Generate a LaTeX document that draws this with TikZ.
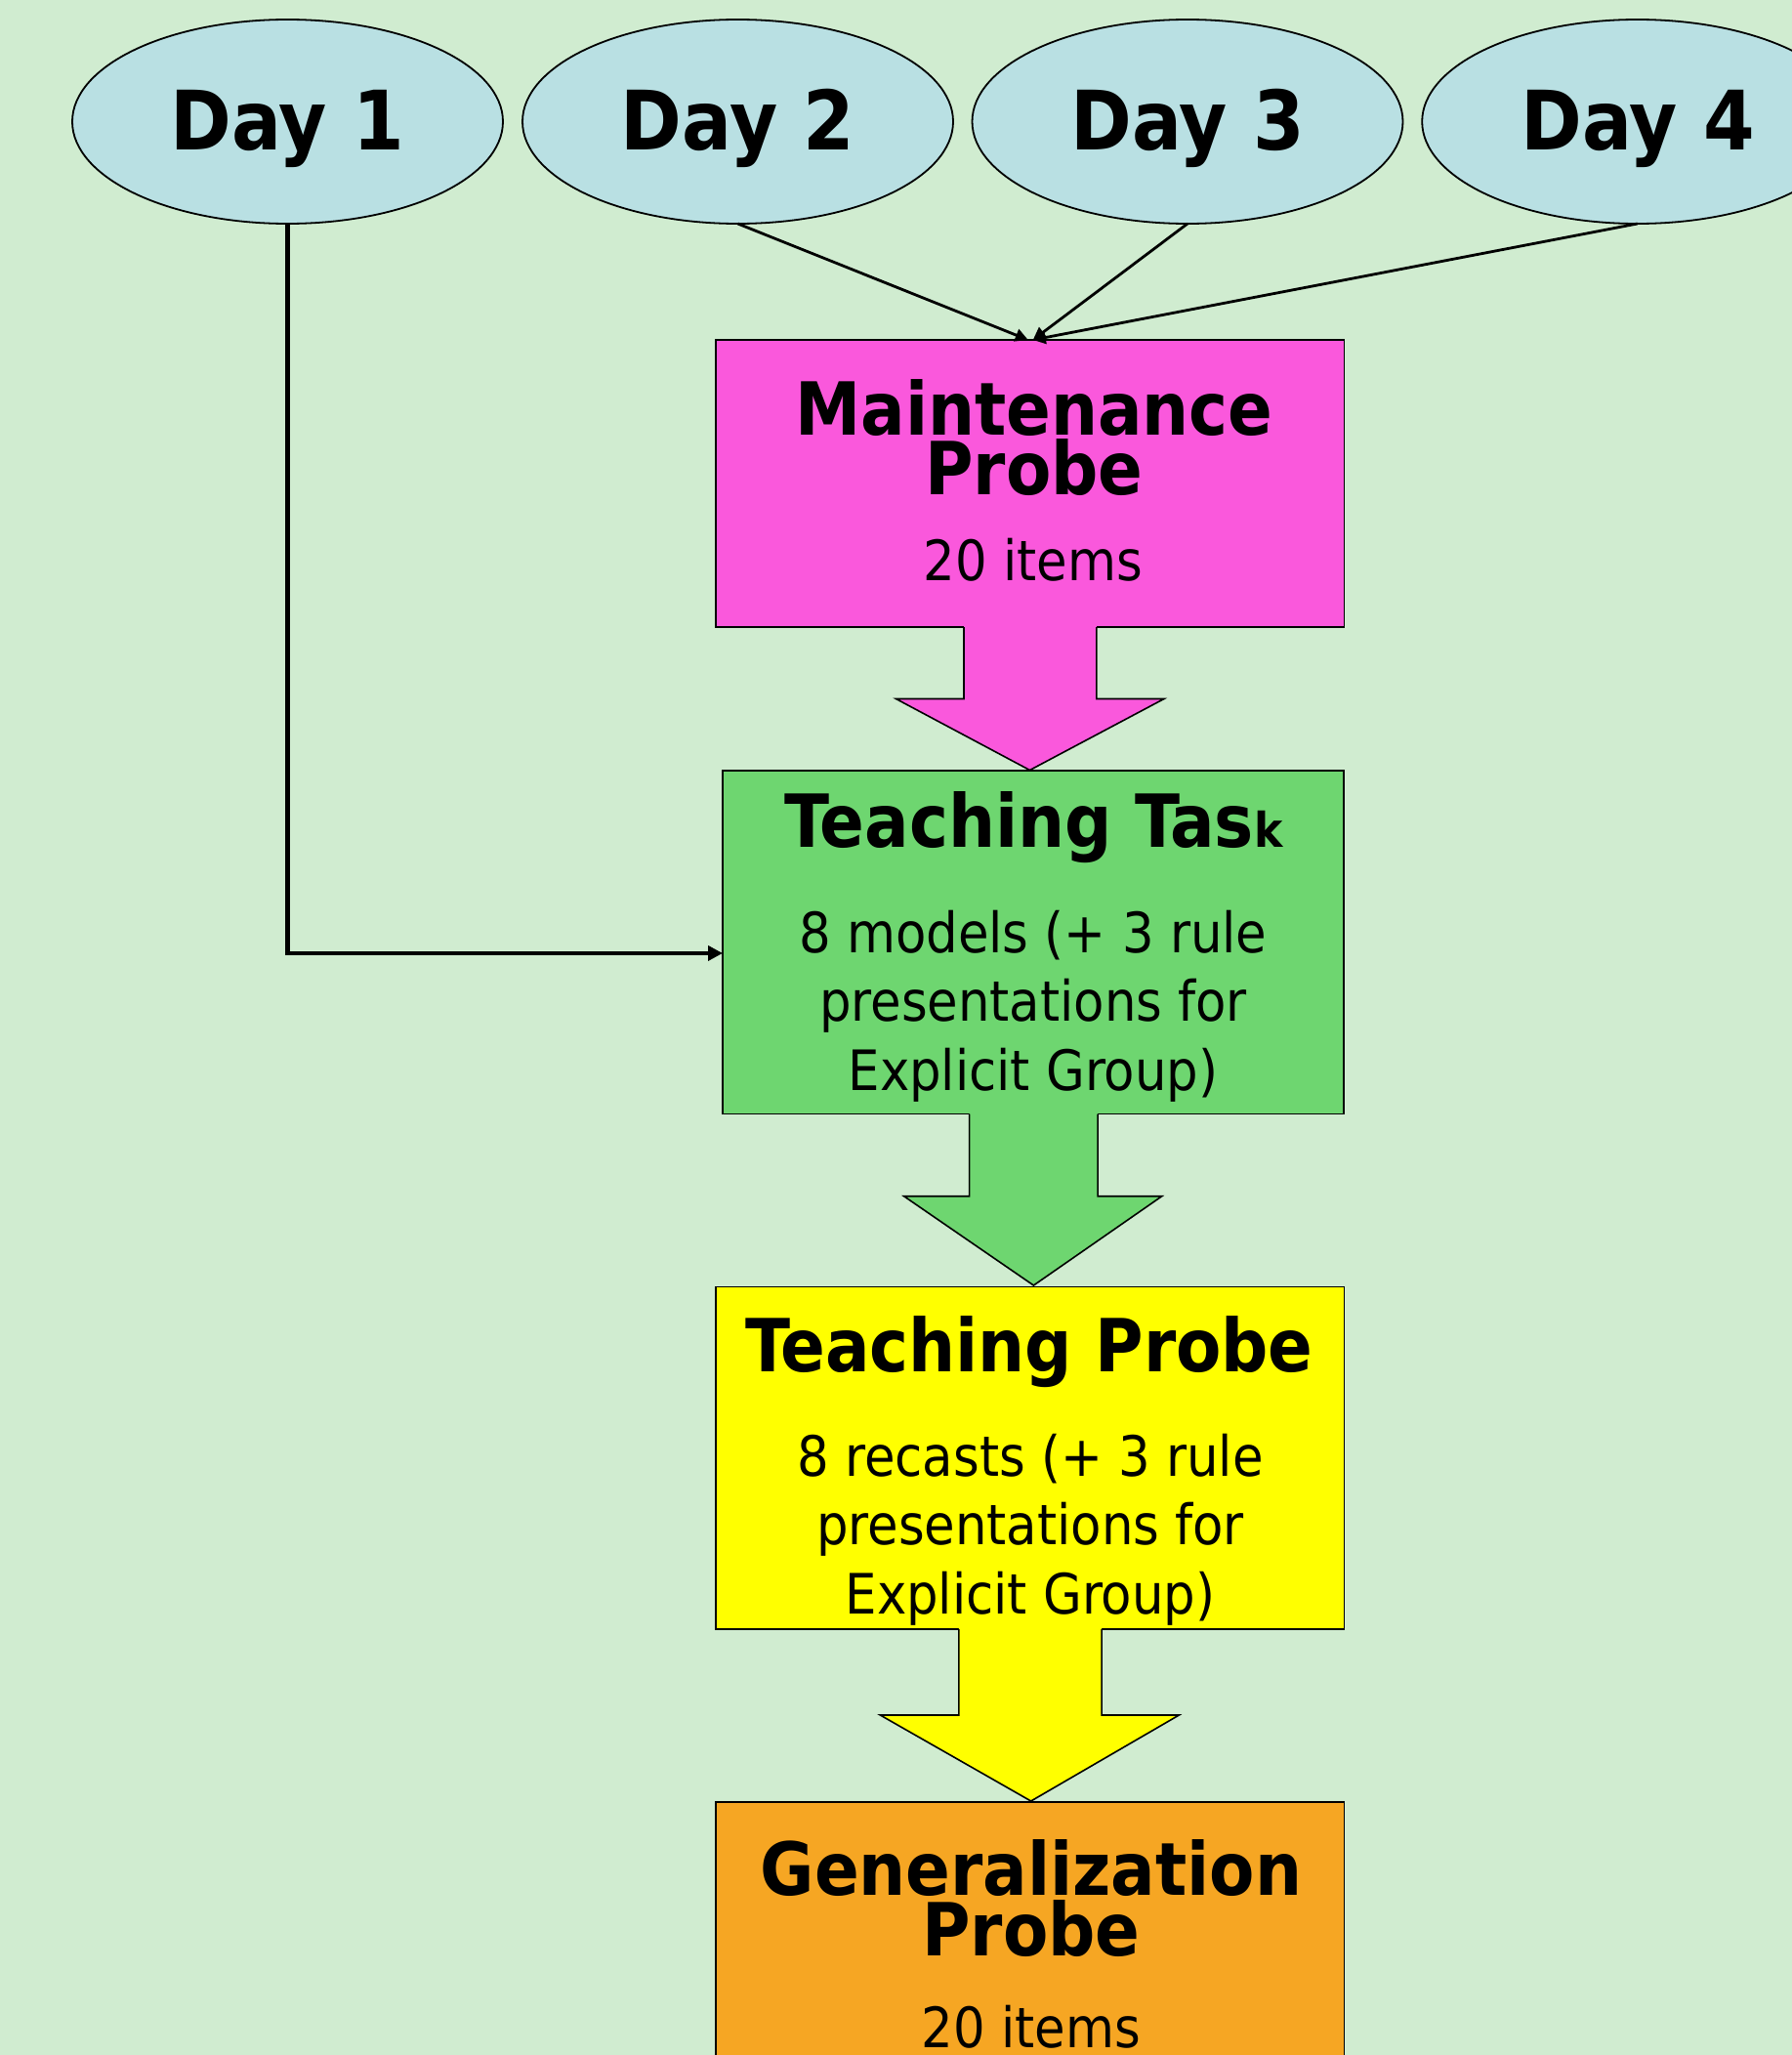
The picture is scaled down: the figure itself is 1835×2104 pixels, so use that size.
\documentclass[tikz,border=0pt]{standalone}
\usepackage{fontspec}
\setmainfont{DejaVu Sans Condensed}
\usetikzlibrary{shapes.geometric,arrows.meta}
\definecolor{bgc}{RGB}{208,236,208}
\definecolor{ellc}{RGB}{185,224,227}
\definecolor{pinkc}{RGB}{250,88,220}
\definecolor{greenc}{RGB}{110,214,112}
\definecolor{yellowc}{RGB}{255,255,0}
\definecolor{orangec}{RGB}{246,166,35}
\begin{document}
\begin{tikzpicture}[x=0.5pt,y=-0.5pt,
  day/.style={ellipse, draw, line width=0.9pt, fill=ellc, minimum width=220.5pt, minimum height=104.5pt, inner sep=0pt, outer sep=0pt},
  box/.style={rectangle, draw, line width=0.8pt, inner sep=0pt, outer sep=0pt},
  daytxt/.style={anchor=base, inner sep=0pt, font=\bfseries\fontsize{42}{42}\selectfont},
  ttl/.style={anchor=base, inner sep=0pt, font=\bfseries\fontsize{37.5}{37.5}\selectfont},
  body/.style={anchor=base, inner sep=0pt, font=\fontsize{28.5}{28.5}\selectfont},
  conn/.style={-{Triangle[length=6.5pt,width=6.5pt]}, line width=1.4pt},
  connthick/.style={-{Triangle[length=7.5pt,width=7.5pt]}, line width=2.2pt},
  blk/.style={draw, line width=0.8pt, line join=miter}]
\useasboundingbox (0,0) rectangle (1835,2104);
\clip (0,0) rectangle (1835,2104);
\fill[bgc] (0,0) rectangle (1835,2104);

% Day ellipses
\node[day] (e1) at (294.5,124.5) {};
\node[day] (e2) at (755.5,124.5) {};
\node[day] (e3) at (1216,124.5) {};
\node[day] (e4) at (1676.7,124.5) {};
\node[daytxt] (d1) at (294,153.3) {Day 1};
\node[daytxt] (d2) at (755.5,153.3) {Day 2};
\node[daytxt] (d3) at (1216,153.3) {Day 3};
\node[daytxt] (d4) at (1677,153.3) {Day 4};

% Boxes
\node[box, fill=pinkc, minimum width=321.75pt, minimum height=147pt] (mp) at (1054.75,495) {};
\node[box, fill=greenc, minimum width=318pt, minimum height=175.75pt] (tt) at (1058,964.75) {};
\node[box, fill=yellowc, minimum width=321.75pt, minimum height=175.25pt] (tp) at (1054.75,1492.75) {};
\node[box, fill=orangec, minimum width=321.75pt, minimum height=177.5pt] (gp) at (1054.75,2022.5) {};

% Block arrows
\fill[pinkc] (987,638) -- (987,715.5) -- (917.5,715.5) -- (1054.5,788.5) -- (1192,715.5) -- (1122.8,715.5) -- (1122.8,638) -- cycle;
\draw[blk] (987,642) -- (987,715.5) -- (917.5,715.5) -- (1054.5,788.5) -- (1192,715.5) -- (1122.8,715.5) -- (1122.8,642);
\fill[greenc] (992.6,1137) -- (992.6,1224.7) -- (925.6,1224.7) -- (1058.4,1316) -- (1189.8,1224.7) -- (1124.1,1224.7) -- (1124.1,1137) -- cycle;
\draw[blk] (992.6,1140.5) -- (992.6,1224.7) -- (925.6,1224.7) -- (1058.4,1316) -- (1189.8,1224.7) -- (1124.1,1224.7) -- (1124.1,1140.5);
\fill[yellowc] (981.9,1664.5) -- (981.9,1756) -- (901.4,1756) -- (1055.7,1844) -- (1207.3,1756) -- (1128.1,1756) -- (1128.1,1664.5) -- cycle;
\draw[blk] (981.9,1668) -- (981.9,1756) -- (901.4,1756) -- (1055.7,1844) -- (1207.3,1756) -- (1128.1,1756) -- (1128.1,1668);

% Texts
\node[ttl] (mp1) at (1059,445) {Maintenance};
\node[ttl] (mp2) at (1059,506.7) {Probe};
\node[body] (mp3) at (1058,594) {20 items};

\node[ttl] (tt1) at (1058.5,867.7) {Teaching Tas{\fontsize{24.5}{24.5}\selectfont k}};
\node[body] (tt2) at (1058,975.7) {8 models (+ 3 rule};
\node[body] (tt3) at (1058,1045.7) {presentations for};
\node[body] (tt4) at (1058,1116.7) {Explicit Group)};

\node[ttl] (tp1) at (1054,1404.3) {Teaching Probe};
\node[body] (tp2) at (1055,1511) {8 recasts (+ 3 rule};
\node[body] (tp3) at (1055,1581.7) {presentations for};
\node[body] (tp4) at (1055,1652.3) {Explicit Group)};

\node[ttl] (gp1) at (1056,1940) {Generalization};
\node[ttl] (gp2) at (1056,2002.7) {Probe};
\node[body] (gp3) at (1056,2096.7) {20 items};

% Connectors
\draw[conn] (e2.south) -- ([xshift=-1pt]mp.north);
\draw[conn] (e3.south) -- ([xshift=1.5pt]mp.north);
\draw[conn] (e4.south) -- ([xshift=1.5pt]mp.north);
\coordinate (ttin) at ([yshift=-5.6pt]tt.west);
\draw[connthick] (e1.south) |- (ttin);
\end{tikzpicture}
\end{document}
